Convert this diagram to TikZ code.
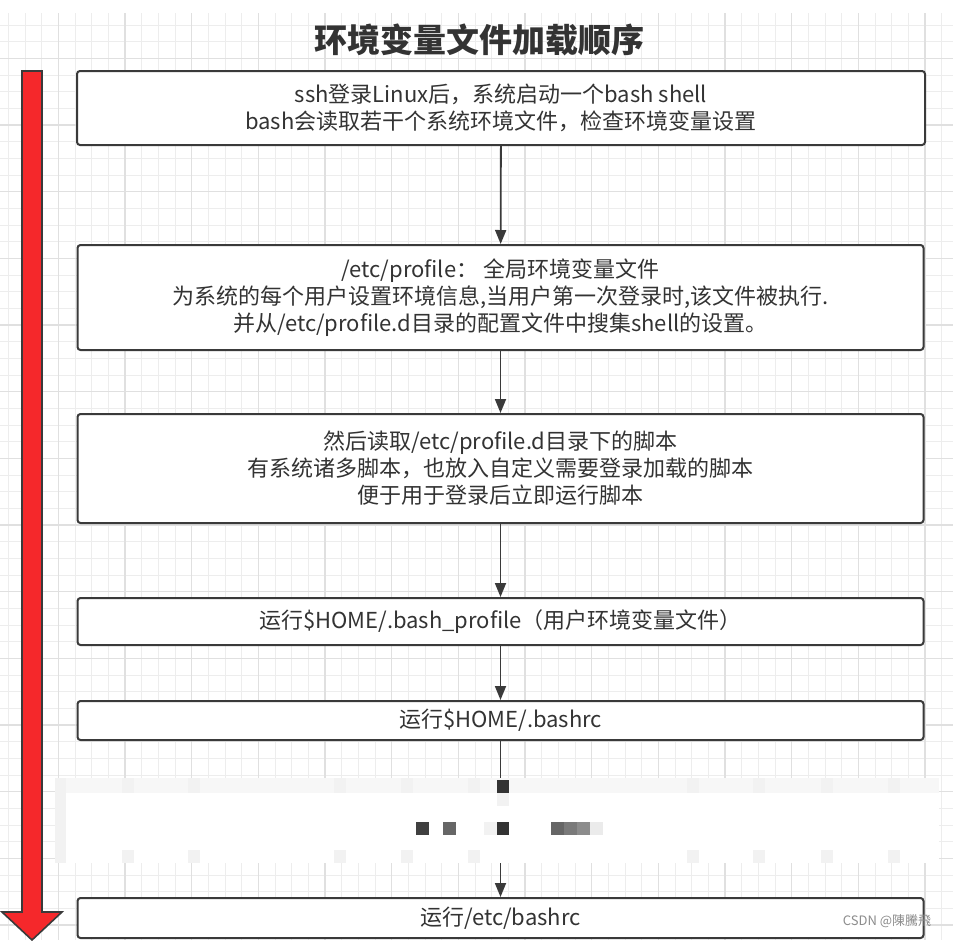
\documentclass[tikz,border=0pt]{standalone}
\usepackage{fontspec}
\setmainfont{Noto Sans CJK SC}
\usepackage{tikz}
\usetikzlibrary{arrows.meta}
\definecolor{boxline}{HTML}{3A3A3A}
\definecolor{txtgray}{HTML}{333333}
\definecolor{redarrow}{HTML}{F5282B}
\definecolor{gridlight}{HTML}{EDEDED}
\definecolor{griddark}{HTML}{E0E0E0}
\definecolor{mosaicpale}{HTML}{F2F2F2}

\begin{document}
\begin{tikzpicture}[x=1pt,y=-1pt,
	stepbox/.style={draw=boxline,line width=2pt,rounded corners=3pt,fill=white,minimum width=846pt,inner sep=0pt,align=center,text=txtgray,font=\fontsize{22}{27}\selectfont},
	flow/.style={draw=boxline,line width=1.8pt,-{Triangle[length=14pt,width=11pt]}},
	gridminor/.style={draw=gridlight,line width=1pt},
	gridmajor/.style={draw=griddark,line width=1.3pt}]
			\useasboundingbox[fill=white] (0,0) rectangle (953,940);
			
			% grid
			\foreach \i in {0,...,56} \draw[gridminor] ({8.333+16.667*\i},13) -- ++(0,927);
			\foreach \i in {0,...,54} \draw[gridminor] (0,{25+16.667*\i}) -- ++(953,0);
			\foreach \i in {0,...,13} \draw[gridmajor] ({58.333+66.667*\i},13) -- ++(0,927);
			\foreach \i in {0,...,13} \draw[gridmajor] (0,{58.333+66.667*\i}) -- ++(953,0);
			
			\node[text=txtgray,font=\fontsize{33}{36}\selectfont\bfseries] (title) at (479,40) {环境变量文件加载顺序};
			
			% red arrow
			\draw[fill=redarrow,draw=boxline,line width=1.6pt] (22,71) -- (42,71) -- (42,912) -- (62,912) -- (32,940) -- (2,912) -- (22,912) -- cycle;
			
			\node[stepbox,minimum width=848pt,minimum height=74pt] (login) at (501,108) {ssh登录Linux后，系统启动一个bash shell\\bash会读取若干个系统环境文件，检查环境变量设置};
			\node[stepbox,minimum height=105pt] (profile) at (500.5,297.5) {/etc/profile：  全局环境变量文件\\为系统的每个用户设置环境信息,当用户第一次登录时,该文件被执行.\\并从/etc/profile.d目录的配置文件中搜集shell的设置。};
			\node[stepbox,minimum height=109pt] (profiled) at (500.5,468.5) {然后读取/etc/profile.d目录下的脚本\\有系统诸多脚本，也放入自定义需要登录加载的脚本\\便于用于登录后立即运行脚本};
			\node[stepbox,minimum height=47pt] (bashprofile) at (500.5,621.5) {运行\$HOME/.bash\_profile（用户环境变量文件）};
			\node[stepbox,minimum height=39pt] (bashrc) at (500.5,720.5) {运行\$HOME/.bashrc};
			\node[stepbox,minimum height=40pt] (etcbashrc) at (500.5,918) {运行/etc/bashrc};
			
			\draw[flow] (login) -- (profile);
			\draw[flow] (profile) -- (profiled);
			\draw[flow] (profiled) -- (bashprofile);
			\draw[flow] (bashprofile) -- (bashrc);
			\draw[flow] (bashrc) -- (etcbashrc);
			
			% mosaic band
			\fill[white] (55,778) rectangle (939,863);
			\fill[mosaicpale!60] (66,778) rectangle (939,793);
			\fill[mosaicpale] (55,778) rectangle (66,863);
			\foreach \px in {122,188,334,401,468,687,753,821,888} {
				\fill[mosaicpale] (\px,778) rectangle ++(12,15);
				\fill[mosaicpale] (\px,850) rectangle ++(12,13);
			}
			\fill[black!80] (497,780) rectangle (509,793);
			\fill[black!5] (497,793) rectangle (509,806);
			\fill[black!75] (416,822) rectangle (429,835);
			\fill[black!60] (443,822) rectangle (456,835);
			\fill[black!5] (484,822) rectangle (497,835);
			\fill[black!80] (497,822) rectangle (509,835);
			\fill[black!60] (551,822) rectangle (564,835);
			\fill[black!52] (564,822) rectangle (577,835);
			\fill[black!45] (577,822) rectangle (590,835);
			\fill[black!8] (590,822) rectangle (603,835);
			
			\node[text=black!45,font=\fontsize{13}{15}\selectfont] (mark) at (887,921) {CSDN @陳騰飛};
		  \end{tikzpicture}
\end{document}
